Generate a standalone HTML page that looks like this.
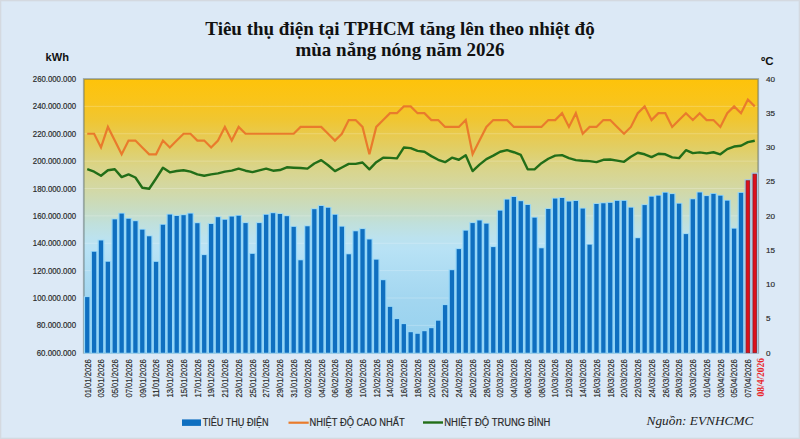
<!DOCTYPE html>
<html><head><meta charset="utf-8">
<style>
html,body{margin:0;padding:0;}
body{width:800px;height:439px;overflow:hidden;background:#dce9f6;position:relative;}
svg{position:absolute;left:0;top:0;}
text{font-family:"Liberation Sans", sans-serif;}
.lb{stroke:#2a2a2a;stroke-width:0.18px;}
.ser{font-family:"Liberation Serif", serif;}
</style></head><body>
<svg width="800" height="439" viewBox="0 0 800 439">
<defs>
<linearGradient id="pg" x1="0" y1="0" x2="0" y2="1">
<stop offset="0" stop-color="#fec30a"/>
<stop offset="0.077" stop-color="#f9c41a"/>
<stop offset="0.15" stop-color="#f0c632"/>
<stop offset="0.22" stop-color="#e6cb56"/>
<stop offset="0.26" stop-color="#e0cf68"/>
<stop offset="0.32" stop-color="#dad488"/>
<stop offset="0.40" stop-color="#d3d8a4"/>
<stop offset="0.47" stop-color="#c9dcc0"/>
<stop offset="0.53" stop-color="#c0e0dc"/>
<stop offset="0.58" stop-color="#bce2ee"/>
<stop offset="0.62" stop-color="#b8e2f5"/>
<stop offset="0.81" stop-color="#a2d6f0"/>
<stop offset="1" stop-color="#94d0ee"/>
</linearGradient>
</defs>
<rect x="0.5" y="0.5" width="799" height="438" fill="#dce9f6" stroke="#d4d9e0" stroke-width="1.6"/>

<rect x="83.8" y="79.0" width="674.4000000000001" height="273.75" fill="url(#pg)"/>
<line x1="83.8" y1="325.38" x2="758.2" y2="325.38" stroke="#ffffff" stroke-opacity="0.22" stroke-width="1"/>
<line x1="83.8" y1="298.00" x2="758.2" y2="298.00" stroke="#ffffff" stroke-opacity="0.22" stroke-width="1"/>
<line x1="83.8" y1="270.62" x2="758.2" y2="270.62" stroke="#ffffff" stroke-opacity="0.22" stroke-width="1"/>
<line x1="83.8" y1="243.25" x2="758.2" y2="243.25" stroke="#ffffff" stroke-opacity="0.22" stroke-width="1"/>
<line x1="83.8" y1="215.88" x2="758.2" y2="215.88" stroke="#ffffff" stroke-opacity="0.22" stroke-width="1"/>
<line x1="83.8" y1="188.50" x2="758.2" y2="188.50" stroke="#ffffff" stroke-opacity="0.22" stroke-width="1"/>
<line x1="83.8" y1="161.12" x2="758.2" y2="161.12" stroke="#ffffff" stroke-opacity="0.22" stroke-width="1"/>
<line x1="83.8" y1="133.75" x2="758.2" y2="133.75" stroke="#ffffff" stroke-opacity="0.22" stroke-width="1"/>
<line x1="83.8" y1="106.38" x2="758.2" y2="106.38" stroke="#ffffff" stroke-opacity="0.22" stroke-width="1"/>
<rect x="83.8" y="79.0" width="674.4000000000001" height="273.75" fill="none" stroke="#5a6a6a" stroke-opacity="0.5" stroke-width="1.8"/>
<rect x="83.84" y="296.30" width="6.80" height="57.35" fill="#94d6f8"/>
<rect x="85.09" y="297.10" width="4.3" height="55.65" fill="#0f6fc0"/>
<rect x="90.72" y="251.00" width="6.80" height="102.65" fill="#94d6f8"/>
<rect x="91.97" y="251.80" width="4.3" height="100.95" fill="#0f6fc0"/>
<rect x="97.60" y="239.70" width="6.80" height="113.95" fill="#94d6f8"/>
<rect x="98.85" y="240.50" width="4.3" height="112.25" fill="#0f6fc0"/>
<rect x="104.49" y="261.00" width="6.80" height="92.65" fill="#94d6f8"/>
<rect x="105.74" y="261.80" width="4.3" height="90.95" fill="#0f6fc0"/>
<rect x="111.37" y="218.60" width="6.80" height="135.05" fill="#94d6f8"/>
<rect x="112.62" y="219.40" width="4.3" height="133.35" fill="#0f6fc0"/>
<rect x="118.25" y="212.80" width="6.80" height="140.85" fill="#94d6f8"/>
<rect x="119.50" y="213.60" width="4.3" height="139.15" fill="#0f6fc0"/>
<rect x="125.13" y="218.00" width="6.80" height="135.65" fill="#94d6f8"/>
<rect x="126.38" y="218.80" width="4.3" height="133.95" fill="#0f6fc0"/>
<rect x="132.01" y="220.40" width="6.80" height="133.25" fill="#94d6f8"/>
<rect x="133.26" y="221.20" width="4.3" height="131.55" fill="#0f6fc0"/>
<rect x="138.89" y="228.90" width="6.80" height="124.75" fill="#94d6f8"/>
<rect x="140.14" y="229.70" width="4.3" height="123.05" fill="#0f6fc0"/>
<rect x="145.78" y="235.50" width="6.80" height="118.15" fill="#94d6f8"/>
<rect x="147.03" y="236.30" width="4.3" height="116.45" fill="#0f6fc0"/>
<rect x="152.66" y="261.10" width="6.80" height="92.55" fill="#94d6f8"/>
<rect x="153.91" y="261.90" width="4.3" height="90.85" fill="#0f6fc0"/>
<rect x="159.54" y="224.00" width="6.80" height="129.65" fill="#94d6f8"/>
<rect x="160.79" y="224.80" width="4.3" height="127.95" fill="#0f6fc0"/>
<rect x="166.42" y="213.80" width="6.80" height="139.85" fill="#94d6f8"/>
<rect x="167.67" y="214.60" width="4.3" height="138.15" fill="#0f6fc0"/>
<rect x="173.30" y="215.20" width="6.80" height="138.45" fill="#94d6f8"/>
<rect x="174.55" y="216.00" width="4.3" height="136.75" fill="#0f6fc0"/>
<rect x="180.18" y="214.40" width="6.80" height="139.25" fill="#94d6f8"/>
<rect x="181.43" y="215.20" width="4.3" height="137.55" fill="#0f6fc0"/>
<rect x="187.07" y="212.80" width="6.80" height="140.85" fill="#94d6f8"/>
<rect x="188.32" y="213.60" width="4.3" height="139.15" fill="#0f6fc0"/>
<rect x="193.95" y="222.40" width="6.80" height="131.25" fill="#94d6f8"/>
<rect x="195.20" y="223.20" width="4.3" height="129.55" fill="#0f6fc0"/>
<rect x="200.83" y="254.30" width="6.80" height="99.35" fill="#94d6f8"/>
<rect x="202.08" y="255.10" width="4.3" height="97.65" fill="#0f6fc0"/>
<rect x="207.71" y="223.20" width="6.80" height="130.45" fill="#94d6f8"/>
<rect x="208.96" y="224.00" width="4.3" height="128.75" fill="#0f6fc0"/>
<rect x="214.59" y="216.40" width="6.80" height="137.25" fill="#94d6f8"/>
<rect x="215.84" y="217.20" width="4.3" height="135.55" fill="#0f6fc0"/>
<rect x="221.47" y="219.00" width="6.80" height="134.65" fill="#94d6f8"/>
<rect x="222.72" y="219.80" width="4.3" height="132.95" fill="#0f6fc0"/>
<rect x="228.36" y="215.80" width="6.80" height="137.85" fill="#94d6f8"/>
<rect x="229.61" y="216.60" width="4.3" height="136.15" fill="#0f6fc0"/>
<rect x="235.24" y="215.00" width="6.80" height="138.65" fill="#94d6f8"/>
<rect x="236.49" y="215.80" width="4.3" height="136.95" fill="#0f6fc0"/>
<rect x="242.12" y="222.30" width="6.80" height="131.35" fill="#94d6f8"/>
<rect x="243.37" y="223.10" width="4.3" height="129.65" fill="#0f6fc0"/>
<rect x="249.00" y="253.10" width="6.80" height="100.55" fill="#94d6f8"/>
<rect x="250.25" y="253.90" width="4.3" height="98.85" fill="#0f6fc0"/>
<rect x="255.88" y="222.30" width="6.80" height="131.35" fill="#94d6f8"/>
<rect x="257.13" y="223.10" width="4.3" height="129.65" fill="#0f6fc0"/>
<rect x="262.76" y="214.00" width="6.80" height="139.65" fill="#94d6f8"/>
<rect x="264.01" y="214.80" width="4.3" height="137.95" fill="#0f6fc0"/>
<rect x="269.64" y="212.40" width="6.80" height="141.25" fill="#94d6f8"/>
<rect x="270.89" y="213.20" width="4.3" height="139.55" fill="#0f6fc0"/>
<rect x="276.53" y="213.20" width="6.80" height="140.45" fill="#94d6f8"/>
<rect x="277.78" y="214.00" width="4.3" height="138.75" fill="#0f6fc0"/>
<rect x="283.41" y="215.40" width="6.80" height="138.25" fill="#94d6f8"/>
<rect x="284.66" y="216.20" width="4.3" height="136.55" fill="#0f6fc0"/>
<rect x="290.29" y="226.10" width="6.80" height="127.55" fill="#94d6f8"/>
<rect x="291.54" y="226.90" width="4.3" height="125.85" fill="#0f6fc0"/>
<rect x="297.17" y="259.50" width="6.80" height="94.15" fill="#94d6f8"/>
<rect x="298.42" y="260.30" width="4.3" height="92.45" fill="#0f6fc0"/>
<rect x="304.05" y="225.50" width="6.80" height="128.15" fill="#94d6f8"/>
<rect x="305.30" y="226.30" width="4.3" height="126.45" fill="#0f6fc0"/>
<rect x="310.93" y="208.40" width="6.80" height="145.25" fill="#94d6f8"/>
<rect x="312.18" y="209.20" width="4.3" height="143.55" fill="#0f6fc0"/>
<rect x="317.82" y="205.20" width="6.80" height="148.45" fill="#94d6f8"/>
<rect x="319.07" y="206.00" width="4.3" height="146.75" fill="#0f6fc0"/>
<rect x="324.70" y="207.00" width="6.80" height="146.65" fill="#94d6f8"/>
<rect x="325.95" y="207.80" width="4.3" height="144.95" fill="#0f6fc0"/>
<rect x="331.58" y="214.00" width="6.80" height="139.65" fill="#94d6f8"/>
<rect x="332.83" y="214.80" width="4.3" height="137.95" fill="#0f6fc0"/>
<rect x="338.46" y="225.90" width="6.80" height="127.75" fill="#94d6f8"/>
<rect x="339.71" y="226.70" width="4.3" height="126.05" fill="#0f6fc0"/>
<rect x="345.34" y="253.50" width="6.80" height="100.15" fill="#94d6f8"/>
<rect x="346.59" y="254.30" width="4.3" height="98.45" fill="#0f6fc0"/>
<rect x="352.22" y="230.50" width="6.80" height="123.15" fill="#94d6f8"/>
<rect x="353.47" y="231.30" width="4.3" height="121.45" fill="#0f6fc0"/>
<rect x="359.11" y="228.30" width="6.80" height="125.35" fill="#94d6f8"/>
<rect x="360.36" y="229.10" width="4.3" height="123.65" fill="#0f6fc0"/>
<rect x="365.99" y="238.70" width="6.80" height="114.95" fill="#94d6f8"/>
<rect x="367.24" y="239.50" width="4.3" height="113.25" fill="#0f6fc0"/>
<rect x="372.87" y="258.90" width="6.80" height="94.75" fill="#94d6f8"/>
<rect x="374.12" y="259.70" width="4.3" height="93.05" fill="#0f6fc0"/>
<rect x="379.75" y="279.40" width="6.80" height="74.25" fill="#94d6f8"/>
<rect x="381.00" y="280.20" width="4.3" height="72.55" fill="#0f6fc0"/>
<rect x="386.63" y="306.10" width="6.80" height="47.55" fill="#94d6f8"/>
<rect x="387.88" y="306.90" width="4.3" height="45.85" fill="#0f6fc0"/>
<rect x="393.51" y="318.30" width="6.80" height="35.35" fill="#94d6f8"/>
<rect x="394.76" y="319.10" width="4.3" height="33.65" fill="#0f6fc0"/>
<rect x="400.40" y="323.30" width="6.80" height="30.35" fill="#94d6f8"/>
<rect x="401.65" y="324.10" width="4.3" height="28.65" fill="#0f6fc0"/>
<rect x="407.28" y="331.40" width="6.80" height="22.25" fill="#94d6f8"/>
<rect x="408.53" y="332.20" width="4.3" height="20.55" fill="#0f6fc0"/>
<rect x="414.16" y="333.00" width="6.80" height="20.65" fill="#94d6f8"/>
<rect x="415.41" y="333.80" width="4.3" height="18.95" fill="#0f6fc0"/>
<rect x="421.04" y="330.40" width="6.80" height="23.25" fill="#94d6f8"/>
<rect x="422.29" y="331.20" width="4.3" height="21.55" fill="#0f6fc0"/>
<rect x="427.92" y="327.40" width="6.80" height="26.25" fill="#94d6f8"/>
<rect x="429.17" y="328.20" width="4.3" height="24.55" fill="#0f6fc0"/>
<rect x="434.80" y="319.90" width="6.80" height="33.75" fill="#94d6f8"/>
<rect x="436.05" y="320.70" width="4.3" height="32.05" fill="#0f6fc0"/>
<rect x="441.69" y="304.30" width="6.80" height="49.35" fill="#94d6f8"/>
<rect x="442.94" y="305.10" width="4.3" height="47.65" fill="#0f6fc0"/>
<rect x="448.57" y="269.40" width="6.80" height="84.25" fill="#94d6f8"/>
<rect x="449.82" y="270.20" width="4.3" height="82.55" fill="#0f6fc0"/>
<rect x="455.45" y="248.30" width="6.80" height="105.35" fill="#94d6f8"/>
<rect x="456.70" y="249.10" width="4.3" height="103.65" fill="#0f6fc0"/>
<rect x="462.33" y="229.90" width="6.80" height="123.75" fill="#94d6f8"/>
<rect x="463.58" y="230.70" width="4.3" height="122.05" fill="#0f6fc0"/>
<rect x="469.21" y="222.30" width="6.80" height="131.35" fill="#94d6f8"/>
<rect x="470.46" y="223.10" width="4.3" height="129.65" fill="#0f6fc0"/>
<rect x="476.09" y="219.70" width="6.80" height="133.95" fill="#94d6f8"/>
<rect x="477.34" y="220.50" width="4.3" height="132.25" fill="#0f6fc0"/>
<rect x="482.98" y="222.90" width="6.80" height="130.75" fill="#94d6f8"/>
<rect x="484.23" y="223.70" width="4.3" height="129.05" fill="#0f6fc0"/>
<rect x="489.86" y="246.30" width="6.80" height="107.35" fill="#94d6f8"/>
<rect x="491.11" y="247.10" width="4.3" height="105.65" fill="#0f6fc0"/>
<rect x="496.74" y="209.90" width="6.80" height="143.75" fill="#94d6f8"/>
<rect x="497.99" y="210.70" width="4.3" height="142.05" fill="#0f6fc0"/>
<rect x="503.62" y="198.80" width="6.80" height="154.85" fill="#94d6f8"/>
<rect x="504.87" y="199.60" width="4.3" height="153.15" fill="#0f6fc0"/>
<rect x="510.50" y="196.20" width="6.80" height="157.45" fill="#94d6f8"/>
<rect x="511.75" y="197.00" width="4.3" height="155.75" fill="#0f6fc0"/>
<rect x="517.38" y="200.40" width="6.80" height="153.25" fill="#94d6f8"/>
<rect x="518.63" y="201.20" width="4.3" height="151.55" fill="#0f6fc0"/>
<rect x="524.27" y="204.20" width="6.80" height="149.45" fill="#94d6f8"/>
<rect x="525.52" y="205.00" width="4.3" height="147.75" fill="#0f6fc0"/>
<rect x="531.15" y="216.90" width="6.80" height="136.75" fill="#94d6f8"/>
<rect x="532.40" y="217.70" width="4.3" height="135.05" fill="#0f6fc0"/>
<rect x="538.03" y="247.50" width="6.80" height="106.15" fill="#94d6f8"/>
<rect x="539.28" y="248.30" width="4.3" height="104.45" fill="#0f6fc0"/>
<rect x="544.91" y="208.20" width="6.80" height="145.45" fill="#94d6f8"/>
<rect x="546.16" y="209.00" width="4.3" height="143.75" fill="#0f6fc0"/>
<rect x="551.79" y="197.80" width="6.80" height="155.85" fill="#94d6f8"/>
<rect x="553.04" y="198.60" width="4.3" height="154.15" fill="#0f6fc0"/>
<rect x="558.67" y="197.20" width="6.80" height="156.45" fill="#94d6f8"/>
<rect x="559.92" y="198.00" width="4.3" height="154.75" fill="#0f6fc0"/>
<rect x="565.56" y="200.80" width="6.80" height="152.85" fill="#94d6f8"/>
<rect x="566.81" y="201.60" width="4.3" height="151.15" fill="#0f6fc0"/>
<rect x="572.44" y="200.20" width="6.80" height="153.45" fill="#94d6f8"/>
<rect x="573.69" y="201.00" width="4.3" height="151.75" fill="#0f6fc0"/>
<rect x="579.32" y="207.80" width="6.80" height="145.85" fill="#94d6f8"/>
<rect x="580.57" y="208.60" width="4.3" height="144.15" fill="#0f6fc0"/>
<rect x="586.20" y="243.90" width="6.80" height="109.75" fill="#94d6f8"/>
<rect x="587.45" y="244.70" width="4.3" height="108.05" fill="#0f6fc0"/>
<rect x="593.08" y="203.20" width="6.80" height="150.45" fill="#94d6f8"/>
<rect x="594.33" y="204.00" width="4.3" height="148.75" fill="#0f6fc0"/>
<rect x="599.96" y="202.50" width="6.80" height="151.15" fill="#94d6f8"/>
<rect x="601.21" y="203.30" width="4.3" height="149.45" fill="#0f6fc0"/>
<rect x="606.84" y="202.10" width="6.80" height="151.55" fill="#94d6f8"/>
<rect x="608.09" y="202.90" width="4.3" height="149.85" fill="#0f6fc0"/>
<rect x="613.73" y="200.10" width="6.80" height="153.55" fill="#94d6f8"/>
<rect x="614.98" y="200.90" width="4.3" height="151.85" fill="#0f6fc0"/>
<rect x="620.61" y="200.10" width="6.80" height="153.55" fill="#94d6f8"/>
<rect x="621.86" y="200.90" width="4.3" height="151.85" fill="#0f6fc0"/>
<rect x="627.49" y="206.90" width="6.80" height="146.75" fill="#94d6f8"/>
<rect x="628.74" y="207.70" width="4.3" height="145.05" fill="#0f6fc0"/>
<rect x="634.37" y="237.40" width="6.80" height="116.25" fill="#94d6f8"/>
<rect x="635.62" y="238.20" width="4.3" height="114.55" fill="#0f6fc0"/>
<rect x="641.25" y="204.30" width="6.80" height="149.35" fill="#94d6f8"/>
<rect x="642.50" y="205.10" width="4.3" height="147.65" fill="#0f6fc0"/>
<rect x="648.13" y="195.90" width="6.80" height="157.75" fill="#94d6f8"/>
<rect x="649.38" y="196.70" width="4.3" height="156.05" fill="#0f6fc0"/>
<rect x="655.02" y="194.90" width="6.80" height="158.75" fill="#94d6f8"/>
<rect x="656.27" y="195.70" width="4.3" height="157.05" fill="#0f6fc0"/>
<rect x="661.90" y="191.90" width="6.80" height="161.75" fill="#94d6f8"/>
<rect x="663.15" y="192.70" width="4.3" height="160.05" fill="#0f6fc0"/>
<rect x="668.78" y="193.30" width="6.80" height="160.35" fill="#94d6f8"/>
<rect x="670.03" y="194.10" width="4.3" height="158.65" fill="#0f6fc0"/>
<rect x="675.66" y="202.90" width="6.80" height="150.75" fill="#94d6f8"/>
<rect x="676.91" y="203.70" width="4.3" height="149.05" fill="#0f6fc0"/>
<rect x="682.54" y="233.30" width="6.80" height="120.35" fill="#94d6f8"/>
<rect x="683.79" y="234.10" width="4.3" height="118.65" fill="#0f6fc0"/>
<rect x="689.42" y="198.50" width="6.80" height="155.15" fill="#94d6f8"/>
<rect x="690.67" y="199.30" width="4.3" height="153.45" fill="#0f6fc0"/>
<rect x="696.31" y="191.70" width="6.80" height="161.95" fill="#94d6f8"/>
<rect x="697.56" y="192.50" width="4.3" height="160.25" fill="#0f6fc0"/>
<rect x="703.19" y="195.30" width="6.80" height="158.35" fill="#94d6f8"/>
<rect x="704.44" y="196.10" width="4.3" height="156.65" fill="#0f6fc0"/>
<rect x="710.07" y="193.10" width="6.80" height="160.55" fill="#94d6f8"/>
<rect x="711.32" y="193.90" width="4.3" height="158.85" fill="#0f6fc0"/>
<rect x="716.95" y="194.90" width="6.80" height="158.75" fill="#94d6f8"/>
<rect x="718.20" y="195.70" width="4.3" height="157.05" fill="#0f6fc0"/>
<rect x="723.83" y="199.90" width="6.80" height="153.75" fill="#94d6f8"/>
<rect x="725.08" y="200.70" width="4.3" height="152.05" fill="#0f6fc0"/>
<rect x="730.71" y="227.90" width="6.80" height="125.75" fill="#94d6f8"/>
<rect x="731.96" y="228.70" width="4.3" height="124.05" fill="#0f6fc0"/>
<rect x="737.60" y="192.10" width="6.80" height="161.55" fill="#94d6f8"/>
<rect x="738.85" y="192.90" width="4.3" height="159.85" fill="#0f6fc0"/>
<rect x="744.48" y="179.15" width="6.80" height="174.50" fill="#a8c6e2"/>
<rect x="746.08" y="180.75" width="3.60" height="172.00" fill="#dc101c" stroke="#8e1820" stroke-width="0.7"/>
<rect x="751.36" y="172.55" width="6.80" height="181.10" fill="#a8c6e2"/>
<rect x="752.96" y="174.15" width="3.60" height="178.60" fill="#dc101c" stroke="#8e1820" stroke-width="0.7"/>
<polyline points="87.24,133.75 94.12,133.75 101.00,147.44 107.89,126.91 114.77,140.59 121.65,154.28 128.53,140.59 135.41,140.59 142.29,147.44 149.18,154.28 156.06,154.28 162.94,140.59 169.82,147.44 176.70,140.59 183.58,133.75 190.47,133.75 197.35,140.59 204.23,140.59 211.11,147.44 217.99,140.59 224.87,126.91 231.76,140.59 238.64,126.91 245.52,133.75 252.40,133.75 259.28,133.75 266.16,133.75 273.04,133.75 279.93,133.75 286.81,133.75 293.69,133.75 300.57,126.91 307.45,126.91 314.33,126.91 321.22,126.91 328.10,133.75 334.98,140.59 341.86,133.75 348.74,120.06 355.62,120.06 362.51,126.91 369.39,154.28 376.27,126.91 383.15,120.06 390.03,113.22 396.91,113.22 403.80,106.38 410.68,106.38 417.56,113.22 424.44,113.22 431.32,120.06 438.20,120.06 445.09,126.91 451.97,126.91 458.85,126.91 465.73,120.06 472.61,154.28 479.49,140.59 486.38,126.91 493.26,120.06 500.14,120.06 507.02,120.06 513.90,126.91 520.78,126.91 527.67,126.91 534.55,126.91 541.43,126.91 548.31,120.06 555.19,120.06 562.07,113.22 568.96,126.91 575.84,113.22 582.72,133.75 589.60,126.91 596.48,126.91 603.36,120.06 610.24,120.06 617.13,126.91 624.01,133.75 630.89,126.91 637.77,113.22 644.65,106.38 651.53,120.06 658.42,113.22 665.30,113.22 672.18,126.91 679.06,120.06 685.94,113.22 692.82,120.06 699.71,113.22 706.59,120.06 713.47,120.06 720.35,126.91 727.23,113.22 734.11,106.38 741.00,113.22 747.88,99.53 754.76,106.38" fill="none" stroke="#e97b2c" stroke-width="2.2" stroke-linejoin="miter"/>
<polyline points="87.24,169.20 94.12,171.66 101.00,175.77 107.89,170.30 114.77,169.20 121.65,177.14 128.53,174.40 135.41,177.48 142.29,187.75 149.18,188.77 156.06,178.51 162.94,167.76 169.82,172.35 176.70,170.98 183.58,170.30 190.47,171.66 197.35,174.40 204.23,175.77 211.11,174.40 217.99,173.38 224.87,171.66 231.76,170.64 238.64,168.58 245.52,170.71 252.40,172.07 259.28,170.30 266.16,168.65 273.04,170.71 279.93,170.02 286.81,167.28 293.69,167.69 300.57,167.97 307.45,168.65 314.33,163.52 321.22,160.10 328.10,165.23 334.98,171.12 341.86,167.49 348.74,163.86 355.62,163.86 362.51,162.49 369.39,169.34 376.27,162.15 383.15,157.70 390.03,157.91 396.91,158.39 403.80,147.57 410.68,148.12 417.56,150.86 424.44,151.75 431.32,156.13 438.20,159.76 445.09,162.15 451.97,157.70 458.85,159.76 465.73,155.17 472.61,171.12 479.49,164.68 486.38,159.07 493.26,155.65 500.14,151.75 507.02,150.18 513.90,152.23 520.78,154.97 527.67,169.34 534.55,169.34 541.43,163.18 548.31,158.73 555.19,155.65 562.07,155.17 568.96,158.11 575.84,160.10 582.72,160.71 589.60,161.12 596.48,162.15 603.36,159.76 610.24,159.55 617.13,160.58 624.01,161.81 630.89,156.75 637.77,152.78 644.65,154.28 651.53,157.16 658.42,153.73 665.30,154.28 672.18,157.36 679.06,158.11 685.94,150.18 692.82,153.12 699.71,152.36 706.59,153.32 713.47,152.23 720.35,154.28 727.23,149.15 734.11,146.55 741.00,145.80 747.88,142.17 754.76,140.80" fill="none" stroke="#226e18" stroke-width="2.4" stroke-linejoin="round"/>
<text x="76.1" y="355.75" font-size="8.3" textLength="39.4" lengthAdjust="spacingAndGlyphs" class="lb" fill="#2a2a2a" text-anchor="end">60.000.000</text>
<text x="76.1" y="328.38" font-size="8.3" textLength="39.4" lengthAdjust="spacingAndGlyphs" class="lb" fill="#2a2a2a" text-anchor="end">80.000.000</text>
<text x="76.1" y="301.00" font-size="8.3" textLength="43.3" lengthAdjust="spacingAndGlyphs" class="lb" fill="#2a2a2a" text-anchor="end">100.000.000</text>
<text x="76.1" y="273.62" font-size="8.3" textLength="43.3" lengthAdjust="spacingAndGlyphs" class="lb" fill="#2a2a2a" text-anchor="end">120.000.000</text>
<text x="76.1" y="246.25" font-size="8.3" textLength="43.3" lengthAdjust="spacingAndGlyphs" class="lb" fill="#2a2a2a" text-anchor="end">140.000.000</text>
<text x="76.1" y="218.88" font-size="8.3" textLength="43.3" lengthAdjust="spacingAndGlyphs" class="lb" fill="#2a2a2a" text-anchor="end">160.000.000</text>
<text x="76.1" y="191.50" font-size="8.3" textLength="43.3" lengthAdjust="spacingAndGlyphs" class="lb" fill="#2a2a2a" text-anchor="end">180.000.000</text>
<text x="76.1" y="164.12" font-size="8.3" textLength="43.3" lengthAdjust="spacingAndGlyphs" class="lb" fill="#2a2a2a" text-anchor="end">200.000.000</text>
<text x="76.1" y="136.75" font-size="8.3" textLength="43.3" lengthAdjust="spacingAndGlyphs" class="lb" fill="#2a2a2a" text-anchor="end">220.000.000</text>
<text x="76.1" y="109.38" font-size="8.3" textLength="43.3" lengthAdjust="spacingAndGlyphs" class="lb" fill="#2a2a2a" text-anchor="end">240.000.000</text>
<text x="76.1" y="82.00" font-size="8.3" textLength="43.3" lengthAdjust="spacingAndGlyphs" class="lb" fill="#2a2a2a" text-anchor="end">260.000.000</text>
<text x="766" y="355.55" font-size="8.1" class="lb" fill="#2a2a2a">0</text>
<text x="766" y="321.33" font-size="8.1" class="lb" fill="#2a2a2a">5</text>
<text x="766" y="287.11" font-size="8.1" class="lb" fill="#2a2a2a">10</text>
<text x="766" y="252.89" font-size="8.1" class="lb" fill="#2a2a2a">15</text>
<text x="766" y="218.68" font-size="8.1" class="lb" fill="#2a2a2a">20</text>
<text x="766" y="184.46" font-size="8.1" class="lb" fill="#2a2a2a">25</text>
<text x="766" y="150.24" font-size="8.1" class="lb" fill="#2a2a2a">30</text>
<text x="766" y="116.02" font-size="8.1" class="lb" fill="#2a2a2a">35</text>
<text x="766" y="81.80" font-size="8.1" class="lb" fill="#2a2a2a">40</text>
<text transform="translate(90.54,397.5) rotate(-90)" font-size="8.4" textLength="38.2" lengthAdjust="spacingAndGlyphs" class="lb" fill="#2a2a2a">01/01/2026</text>
<text transform="translate(104.30,397.5) rotate(-90)" font-size="8.4" textLength="38.2" lengthAdjust="spacingAndGlyphs" class="lb" fill="#2a2a2a">03/01/2026</text>
<text transform="translate(118.07,397.5) rotate(-90)" font-size="8.4" textLength="38.2" lengthAdjust="spacingAndGlyphs" class="lb" fill="#2a2a2a">05/01/2026</text>
<text transform="translate(131.83,397.5) rotate(-90)" font-size="8.4" textLength="38.2" lengthAdjust="spacingAndGlyphs" class="lb" fill="#2a2a2a">07/01/2026</text>
<text transform="translate(145.59,397.5) rotate(-90)" font-size="8.4" textLength="38.2" lengthAdjust="spacingAndGlyphs" class="lb" fill="#2a2a2a">09/01/2026</text>
<text transform="translate(159.36,397.5) rotate(-90)" font-size="8.4" textLength="38.2" lengthAdjust="spacingAndGlyphs" class="lb" fill="#2a2a2a">11/01/2026</text>
<text transform="translate(173.12,397.5) rotate(-90)" font-size="8.4" textLength="38.2" lengthAdjust="spacingAndGlyphs" class="lb" fill="#2a2a2a">13/01/2026</text>
<text transform="translate(186.88,397.5) rotate(-90)" font-size="8.4" textLength="38.2" lengthAdjust="spacingAndGlyphs" class="lb" fill="#2a2a2a">15/01/2026</text>
<text transform="translate(200.65,397.5) rotate(-90)" font-size="8.4" textLength="38.2" lengthAdjust="spacingAndGlyphs" class="lb" fill="#2a2a2a">17/01/2026</text>
<text transform="translate(214.41,397.5) rotate(-90)" font-size="8.4" textLength="38.2" lengthAdjust="spacingAndGlyphs" class="lb" fill="#2a2a2a">19/01/2026</text>
<text transform="translate(228.17,397.5) rotate(-90)" font-size="8.4" textLength="38.2" lengthAdjust="spacingAndGlyphs" class="lb" fill="#2a2a2a">21/01/2026</text>
<text transform="translate(241.94,397.5) rotate(-90)" font-size="8.4" textLength="38.2" lengthAdjust="spacingAndGlyphs" class="lb" fill="#2a2a2a">23/01/2026</text>
<text transform="translate(255.70,397.5) rotate(-90)" font-size="8.4" textLength="38.2" lengthAdjust="spacingAndGlyphs" class="lb" fill="#2a2a2a">25/01/2026</text>
<text transform="translate(269.46,397.5) rotate(-90)" font-size="8.4" textLength="38.2" lengthAdjust="spacingAndGlyphs" class="lb" fill="#2a2a2a">27/01/2026</text>
<text transform="translate(283.23,397.5) rotate(-90)" font-size="8.4" textLength="38.2" lengthAdjust="spacingAndGlyphs" class="lb" fill="#2a2a2a">29/01/2026</text>
<text transform="translate(296.99,397.5) rotate(-90)" font-size="8.4" textLength="38.2" lengthAdjust="spacingAndGlyphs" class="lb" fill="#2a2a2a">31/01/2026</text>
<text transform="translate(310.75,397.5) rotate(-90)" font-size="8.4" textLength="38.2" lengthAdjust="spacingAndGlyphs" class="lb" fill="#2a2a2a">02/02/2026</text>
<text transform="translate(324.52,397.5) rotate(-90)" font-size="8.4" textLength="38.2" lengthAdjust="spacingAndGlyphs" class="lb" fill="#2a2a2a">04/02/2026</text>
<text transform="translate(338.28,397.5) rotate(-90)" font-size="8.4" textLength="38.2" lengthAdjust="spacingAndGlyphs" class="lb" fill="#2a2a2a">06/02/2026</text>
<text transform="translate(352.04,397.5) rotate(-90)" font-size="8.4" textLength="38.2" lengthAdjust="spacingAndGlyphs" class="lb" fill="#2a2a2a">08/02/2026</text>
<text transform="translate(365.81,397.5) rotate(-90)" font-size="8.4" textLength="38.2" lengthAdjust="spacingAndGlyphs" class="lb" fill="#2a2a2a">10/02/2026</text>
<text transform="translate(379.57,397.5) rotate(-90)" font-size="8.4" textLength="38.2" lengthAdjust="spacingAndGlyphs" class="lb" fill="#2a2a2a">12/02/2026</text>
<text transform="translate(393.33,397.5) rotate(-90)" font-size="8.4" textLength="38.2" lengthAdjust="spacingAndGlyphs" class="lb" fill="#2a2a2a">14/02/2026</text>
<text transform="translate(407.10,397.5) rotate(-90)" font-size="8.4" textLength="38.2" lengthAdjust="spacingAndGlyphs" class="lb" fill="#2a2a2a">16/02/2026</text>
<text transform="translate(420.86,397.5) rotate(-90)" font-size="8.4" textLength="38.2" lengthAdjust="spacingAndGlyphs" class="lb" fill="#2a2a2a">18/02/2026</text>
<text transform="translate(434.62,397.5) rotate(-90)" font-size="8.4" textLength="38.2" lengthAdjust="spacingAndGlyphs" class="lb" fill="#2a2a2a">20/02/2026</text>
<text transform="translate(448.39,397.5) rotate(-90)" font-size="8.4" textLength="38.2" lengthAdjust="spacingAndGlyphs" class="lb" fill="#2a2a2a">22/02/2026</text>
<text transform="translate(462.15,397.5) rotate(-90)" font-size="8.4" textLength="38.2" lengthAdjust="spacingAndGlyphs" class="lb" fill="#2a2a2a">24/02/2026</text>
<text transform="translate(475.91,397.5) rotate(-90)" font-size="8.4" textLength="38.2" lengthAdjust="spacingAndGlyphs" class="lb" fill="#2a2a2a">26/02/2026</text>
<text transform="translate(489.68,397.5) rotate(-90)" font-size="8.4" textLength="38.2" lengthAdjust="spacingAndGlyphs" class="lb" fill="#2a2a2a">28/02/2026</text>
<text transform="translate(503.44,397.5) rotate(-90)" font-size="8.4" textLength="38.2" lengthAdjust="spacingAndGlyphs" class="lb" fill="#2a2a2a">02/03/2026</text>
<text transform="translate(517.20,397.5) rotate(-90)" font-size="8.4" textLength="38.2" lengthAdjust="spacingAndGlyphs" class="lb" fill="#2a2a2a">04/03/2026</text>
<text transform="translate(530.97,397.5) rotate(-90)" font-size="8.4" textLength="38.2" lengthAdjust="spacingAndGlyphs" class="lb" fill="#2a2a2a">06/03/2026</text>
<text transform="translate(544.73,397.5) rotate(-90)" font-size="8.4" textLength="38.2" lengthAdjust="spacingAndGlyphs" class="lb" fill="#2a2a2a">08/03/2026</text>
<text transform="translate(558.49,397.5) rotate(-90)" font-size="8.4" textLength="38.2" lengthAdjust="spacingAndGlyphs" class="lb" fill="#2a2a2a">10/03/2026</text>
<text transform="translate(572.26,397.5) rotate(-90)" font-size="8.4" textLength="38.2" lengthAdjust="spacingAndGlyphs" class="lb" fill="#2a2a2a">12/03/2026</text>
<text transform="translate(586.02,397.5) rotate(-90)" font-size="8.4" textLength="38.2" lengthAdjust="spacingAndGlyphs" class="lb" fill="#2a2a2a">14/03/2026</text>
<text transform="translate(599.78,397.5) rotate(-90)" font-size="8.4" textLength="38.2" lengthAdjust="spacingAndGlyphs" class="lb" fill="#2a2a2a">16/03/2026</text>
<text transform="translate(613.54,397.5) rotate(-90)" font-size="8.4" textLength="38.2" lengthAdjust="spacingAndGlyphs" class="lb" fill="#2a2a2a">18/03/2026</text>
<text transform="translate(627.31,397.5) rotate(-90)" font-size="8.4" textLength="38.2" lengthAdjust="spacingAndGlyphs" class="lb" fill="#2a2a2a">20/03/2026</text>
<text transform="translate(641.07,397.5) rotate(-90)" font-size="8.4" textLength="38.2" lengthAdjust="spacingAndGlyphs" class="lb" fill="#2a2a2a">22/03/2026</text>
<text transform="translate(654.83,397.5) rotate(-90)" font-size="8.4" textLength="38.2" lengthAdjust="spacingAndGlyphs" class="lb" fill="#2a2a2a">24/03/2026</text>
<text transform="translate(668.60,397.5) rotate(-90)" font-size="8.4" textLength="38.2" lengthAdjust="spacingAndGlyphs" class="lb" fill="#2a2a2a">26/03/2026</text>
<text transform="translate(682.36,397.5) rotate(-90)" font-size="8.4" textLength="38.2" lengthAdjust="spacingAndGlyphs" class="lb" fill="#2a2a2a">28/03/2026</text>
<text transform="translate(696.12,397.5) rotate(-90)" font-size="8.4" textLength="38.2" lengthAdjust="spacingAndGlyphs" class="lb" fill="#2a2a2a">30/03/2026</text>
<text transform="translate(709.89,397.5) rotate(-90)" font-size="8.4" textLength="38.2" lengthAdjust="spacingAndGlyphs" class="lb" fill="#2a2a2a">01/04/2026</text>
<text transform="translate(723.65,397.5) rotate(-90)" font-size="8.4" textLength="38.2" lengthAdjust="spacingAndGlyphs" class="lb" fill="#2a2a2a">03/04/2026</text>
<text transform="translate(737.41,397.5) rotate(-90)" font-size="8.4" textLength="38.2" lengthAdjust="spacingAndGlyphs" class="lb" fill="#2a2a2a">05/04/2026</text>
<text transform="translate(751.18,397.5) rotate(-90)" font-size="8.4" textLength="38.2" lengthAdjust="spacingAndGlyphs" class="lb" fill="#2a2a2a">07/04/2026</text>
<text class="ser" transform="translate(764,396.5) rotate(-90)" font-size="9.5" font-weight="bold" fill="#e8262a">08/4/2026</text>
<text class="ser" x="400" y="34.7" font-size="19" font-weight="bold" fill="#111" text-anchor="middle">Tiêu thụ điện tại TPHCM tăng lên theo nhiệt độ</text>
<text class="ser" x="400" y="56.0" font-size="19" font-weight="bold" fill="#111" text-anchor="middle">mùa nắng nóng năm 2026</text>
<text x="45.6" y="61.2" font-size="11.6" textLength="23.4" lengthAdjust="spacingAndGlyphs" font-weight="bold" fill="#111">kWh</text>
<text x="761" y="65.0" font-size="11.5" font-weight="bold" fill="#111">ºC</text>
<rect x="182" y="419.4" width="19" height="6.5" fill="#0f6fc0"/>
<text x="202.7" y="425.6" font-size="10" textLength="66" lengthAdjust="spacingAndGlyphs" class="lb" fill="#2a2a2a">TIÊU THỤ ĐIỆN</text>
<line x1="288.5" y1="422.7" x2="308.7" y2="422.7" stroke="#e97b2c" stroke-width="2.2"/>
<text x="309.5" y="425.6" font-size="10" textLength="95.2" lengthAdjust="spacingAndGlyphs" class="lb" fill="#2a2a2a">NHIỆT ĐỘ CAO NHẤT</text>
<line x1="423" y1="422.5" x2="443" y2="422.5" stroke="#226e18" stroke-width="2.4"/>
<text x="444.3" y="425.6" font-size="10" textLength="106" lengthAdjust="spacingAndGlyphs" class="lb" fill="#2a2a2a">NHIỆT ĐỘ TRUNG BÌNH</text>
<text class="ser" x="646.6" y="424.7" font-size="13.3" font-style="italic" fill="#222">Nguồn: EVNHCMC</text>
</svg></body></html>
